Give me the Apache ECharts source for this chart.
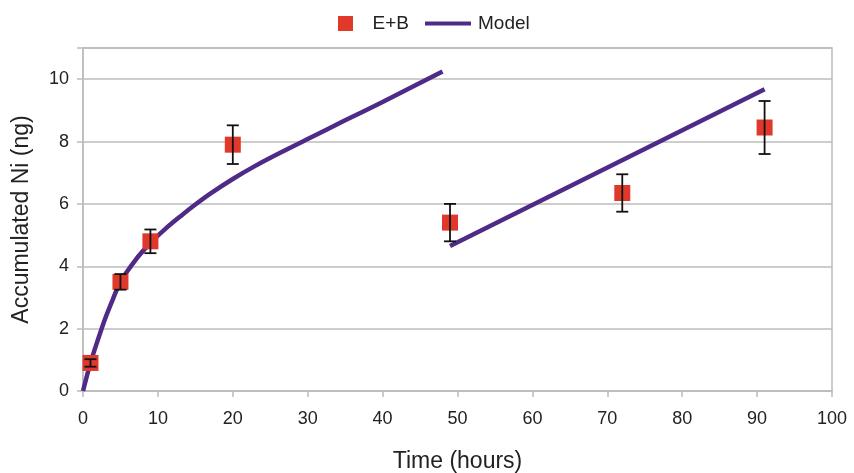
<!DOCTYPE html>
<html>
<head>
<meta charset="utf-8">
<script src="https://cdn.jsdelivr.net/npm/echarts@6/dist/echarts.min.js"></script>
<style>html,body{margin:0;padding:0;background:#fff}#c{width:854px;height:473px}</style>
</head>
<body>
<div id="c"></div>
<script>
const xTicks = [0,10,20,30,40,50,60,70,80,90,100];
const yTicks = [0,2,4,6,8,10];
const ebX = [1,5,9,20,49,72,91];
const ebY = [0.9,3.5,4.8,7.9,5.4,6.35,8.45];
const ebErr = [0.12,0.25,0.38,0.62,0.6,0.6,0.85];
const model1X = [0,1,2,3,4,5,7,9,11,13,15,17,20,23,26,30,35,40,48];
const model1Y = [0,0.9,1.65,2.35,2.95,3.5,4.2,4.75,5.2,5.6,5.98,6.33,6.8,7.22,7.6,8.08,8.68,9.27,10.25];
const model2X = [49,91];
const model2Y = [4.65,9.68];

const FONT = 'Liberation Sans';
const chart = echarts.init(document.getElementById('c'), null, {renderer:'canvas'});
chart.setOption({
  animation:false,
  backgroundColor:'#fff',
  textStyle:{fontFamily:FONT},
  legend:[
    {data:[{name:'E+B', icon:'path://M0,0L14,0L14,14L0,14Z'}], left:333, top:9, itemWidth:44, itemHeight:15,
     symbolKeepAspect:true,
     textStyle:{fontFamily:FONT, fontSize:19, color:'#222'}},
    {data:[{name:'Model', icon:'rect'}], left:420, top:9, itemWidth:46, itemHeight:4,
     textStyle:{fontFamily:FONT, fontSize:19, color:'#222', padding:[0,0,0,2]}}
  ],
  grid:{left:83, right:22, top:48, bottom:82, show:true, borderColor:'#bcbcbc', borderWidth:1.5,
        containLabel:false, outerBoundsMode:'none'},
  xAxis:{type:'value', min:0, max:100, interval:10,
    name:'Time (hours)', nameLocation:'middle', nameGap:59,
    nameTextStyle:{fontFamily:FONT, fontSize:23, color:'#222'},
    axisLine:{lineStyle:{color:'#bcbcbc', width:1.5}},
    axisTick:{show:true, length:6, lineStyle:{color:'#bcbcbc', width:1.5}},
    axisLabel:{fontFamily:FONT, fontSize:18, color:'#222', margin:19,
      formatter:v=>xTicks.includes(v)?String(v):''},
    splitLine:{show:false}},
  yAxis:{type:'value', min:0, max:11, interval:2,
    name:'Accumulated Ni (ng)', nameLocation:'middle', nameGap:50, nameRotate:90,
    nameTextStyle:{fontFamily:FONT, fontSize:23, color:'#222'},
    axisLine:{show:true, lineStyle:{color:'#bcbcbc', width:1.5}},
    axisTick:{show:true, length:6, lineStyle:{color:'#bcbcbc', width:1.5}},
    axisLabel:{fontFamily:FONT, fontSize:18, color:'#222', margin:14,
      formatter:v=>yTicks.includes(v)?String(v):''},
    splitLine:{show:true, lineStyle:{color:'#bcbcbc', width:1.5}}},
  series:[
    {name:'Model', type:'line', data:model1X.map((x,i)=>[x,model1Y[i]]), smooth:0.3,
     showSymbol:false, symbol:'none', lineStyle:{color:'#4f2a86', width:4.5}, itemStyle:{color:'#4f2a86'}, z:2},
    {name:'Model', type:'line', data:model2X.map((x,i)=>[x,model2Y[i]]),
     showSymbol:false, symbol:'none', lineStyle:{color:'#4f2a86', width:4.5}, itemStyle:{color:'#4f2a86'}, z:2},
    {name:'E+B', type:'scatter', symbol:'rect', symbolSize:16,
     data:ebX.map((x,i)=>[x,ebY[i]]), itemStyle:{color:'#e0392b', opacity:1}, z:3},
    {type:'custom', z:4, silent:true,
     data:ebX.map((x,i)=>[x,ebY[i]-ebErr[i],ebY[i]+ebErr[i]]),
     renderItem:function(params, api){
       const lo = api.coord([api.value(0), api.value(1)]);
       const hi = api.coord([api.value(0), api.value(2)]);
       const w = 6;
       const st = {stroke:'#111', lineWidth:1.8};
       return {type:'group', children:[
         {type:'line', shape:{x1:lo[0],y1:lo[1],x2:hi[0],y2:hi[1]}, style:st},
         {type:'line', shape:{x1:lo[0]-w,y1:lo[1],x2:lo[0]+w,y2:lo[1]}, style:st},
         {type:'line', shape:{x1:hi[0]-w,y1:hi[1],x2:hi[0]+w,y2:hi[1]}, style:st}
       ]};
     }}
  ]
});
</script>
</body>
</html>
